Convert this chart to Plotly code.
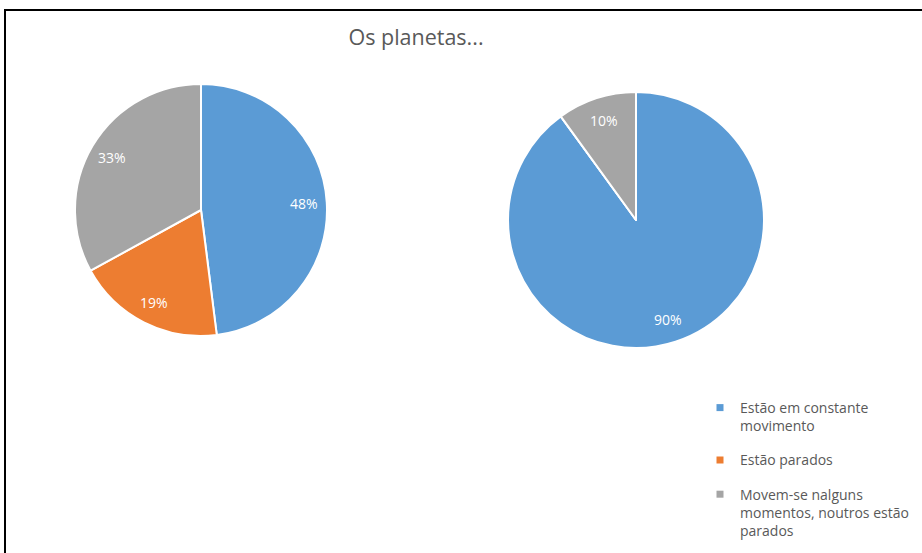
import math
import plotly.graph_objects as go

categories = ["Estão em constante<br>movimento", "Estão parados", "Movem-se nalguns<br>momentos, noutros estão<br>parados"]
colors = ["#5B9BD5", "#ED7D31", "#A5A5A5"]
left_values = [48, 19, 33]
right_values = [90, 0, 10]

W, H = 922, 553
def px_x(v): return v / W
def px_y(v): return 1 - v / H

left_dom = dict(x=[px_x(75), px_x(327)], y=[px_y(336), px_y(84)])
right_dom = dict(x=[px_x(508), px_x(764)], y=[px_y(348), px_y(92)])

fig = go.Figure()

for vals, dom in [(left_values, left_dom), (right_values, right_dom)]:
    fig.add_trace(go.Pie(
        values=vals, labels=categories, sort=False, direction="clockwise", rotation=0,
        marker=dict(colors=colors, line=dict(color="white", width=2)),
        textinfo="none", domain=dom,
        showlegend=False, hoverinfo="label+percent",
    ))

# percentage labels placed at ~0.82 radius on each slice's mid-angle (computed from data)
def add_labels(vals, dom, frac=0.82):
    total = sum(vals)
    cx = (dom["x"][0] + dom["x"][1]) / 2 * W
    cy = (1 - (dom["y"][0] + dom["y"][1]) / 2) * H
    r = (dom["x"][1] - dom["x"][0]) * W / 2
    cum = 0
    for v in vals:
        if v > 0:
            mid = (cum + v / 2) / total * 2 * math.pi
            lx = cx + frac * r * math.sin(mid)
            ly = cy - frac * r * math.cos(mid)
            fig.add_annotation(x=px_x(lx), y=px_y(ly), xref="paper", yref="paper",
                               xanchor="center", yanchor="middle",
                               text=f"{round(v / total * 100)}%", showarrow=False,
                               font=dict(color="white", size=14, family="Open Sans"))
        cum += v

add_labels(left_values, left_dom)
add_labels(right_values, right_dom)

for i, (name, c) in enumerate(zip(categories, colors)):
    fig.add_trace(go.Scatter(
        x=[None], y=[None], mode="markers", name=name, legendgroup=f"g{i}",
        marker=dict(symbol="square", size=7, color=c),
    ))

fig.add_shape(type="rect", xref="paper", yref="paper",
              x0=px_x(5), x1=1.05, y0=-0.05, y1=px_y(10),
              line=dict(color="black", width=2), fillcolor="rgba(0,0,0,0)")

fig.update_layout(
    width=W, height=H,
    margin=dict(l=0, r=0, t=0, b=0),
    paper_bgcolor="white", plot_bgcolor="white",
    title=dict(text="Os planetas...", x=px_x(416), xanchor="center", y=px_y(37), yanchor="middle",
               font=dict(size=21.5, color="#595959", family="Open Sans")),
    xaxis=dict(visible=False), yaxis=dict(visible=False),
    legend=dict(x=px_x(700), y=px_y(392), xanchor="left", yanchor="top",
                font=dict(size=14, color="#595959", family="Open Sans"),
                tracegroupgap=13, valign="top", itemwidth=30,
                bgcolor="rgba(0,0,0,0)"),
)

fig.write_html("out.html")
